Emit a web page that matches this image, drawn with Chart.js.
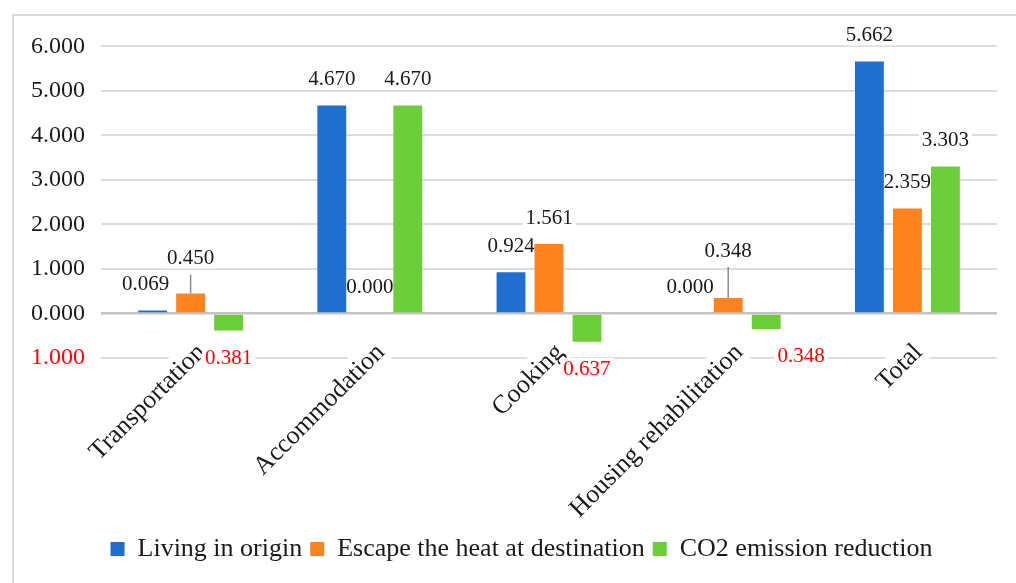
<!DOCTYPE html>
<html>
<head>
<meta charset="utf-8">
<script src="https://cdn.jsdelivr.net/npm/chart.js@4.4.0/dist/chart.umd.min.js"></script>
<style>
  html, body { margin: 0; padding: 0; background: #fff; overflow: hidden; width: 1016px; height: 583px; }
  #frame { position: absolute; left: 12px; top: 14px; border-left: 2px solid #d9d9d9; border-top: 2px solid #d9d9d9; width: 1020px; height: 600px; }
</style>
</head>
<body>
<div id="frame">
  <canvas id="chart" width="1014" height="556"></canvas>
</div>
<script>
// categories and series
const categories = ['Transportation', 'Accommodation', 'Cooking', 'Housing rehabilitation', 'Total'];
const livingInOrigin = [0.069, 4.670, 0.924, 0.000, 5.662];
const escapeHeat = [0.450, 0.000, 1.561, 0.348, 2.359];
const co2Reduction = [-0.381, 4.670, -0.637, -0.348, 3.303];
const seriesNames = ['Living in origin', 'Escape the heat at destination', 'CO2 emission reduction'];
const yTicks = [-1, 0, 1, 2, 3, 4, 5, 6];

// hand placed label tweaks, like excel when you drag a label: [dx, dy, leaderLine]
const labelNudge = {
    '0-0': [-7, 0, false],
    '1-0': [0, -9, true],
    '1-3': [0, -21, true],
    '2-3': [35, 0, false]
};

const FONT = '"Liberation Serif", "Times New Roman", serif';
const textColor = '#1a1a1a';
const negColor = '#ff0000';
Chart.defaults.font.family = FONT;

function labelSpots(chart, cb) {
    chart.data.datasets.forEach((ds, i) => {
        chart.getDatasetMeta(i).data.forEach((bar, j) => {
            const v = ds.data[j];
            const nudge = labelNudge[i + '-' + j] || [0, 0, false];
            const x = bar.x + nudge[0];
            const y = (v < 0 ? bar.y + 27 : bar.y - 27) + nudge[1];
            cb(bar, v, x, y, nudge[2]);
        });
    });
}

// value labels: white box goes under the bars (hides gridlines), text on top
const valueLabels = {
    id: 'valueLabels',
    afterLayout(chart) {
        // legend in the original is centred on the whole frame, not the canvas minus padding
        chart.legend.left += 16;
        chart.legend.right += 16;
    },
    beforeDatasetsDraw(chart) {
        const ctx = chart.ctx;
        ctx.save();
        ctx.font = '21px ' + FONT;
        ctx.fillStyle = '#fff';
        labelSpots(chart, (bar, v, x, y) => {
            const w = ctx.measureText(Math.abs(v).toFixed(3)).width;
            ctx.fillRect(x - w / 2 - 3, y - 11, w + 6, 22);
        });
        ctx.restore();
    },
    afterDatasetsDraw(chart) {
        const ctx = chart.ctx;
        ctx.save();
        ctx.font = '21px ' + FONT;
        ctx.textAlign = 'center';
        ctx.textBaseline = 'middle';
        labelSpots(chart, (bar, v, x, y, lead) => {
            if (lead) {
                ctx.strokeStyle = '#8c8c8c';
                ctx.lineWidth = 1.5;
                ctx.beginPath();
                ctx.moveTo(bar.x, y + 17);
                ctx.lineTo(bar.x, bar.y);
                ctx.stroke();
            }
            ctx.fillStyle = v < 0 ? negColor : textColor;
            ctx.fillText(Math.abs(v).toFixed(3), x, y + 1);
        });
        ctx.restore();
    }
};

const ctx = document.getElementById('chart').getContext('2d');
new Chart(ctx, {
    type: 'bar',
    data: {
        labels: categories,
        datasets: [
            { label: seriesNames[0], data: livingInOrigin, backgroundColor: '#1f70ce' },
            { label: seriesNames[1], data: escapeHeat, backgroundColor: '#ff841f' },
            { label: seriesNames[2], data: co2Reduction, backgroundColor: '#6cce3b' }
        ]
    },
    options: {
        responsive: false,
        animation: false,
        categoryPercentage: 0.636,
        barPercentage: 0.76,
        layout: { padding: { top: 27, right: 31, left: 0, bottom: 0 } },
        scales: {
            x: {
                position: { y: 0 },
                grid: { display: false },
                border: { display: false },
                ticks: {
                    autoSkip: false,
                    minRotation: 45,
                    maxRotation: 45,
                    padding: 16,
                    color: textColor,
                    font: { family: FONT, size: 26 },
                    showLabelBackdrop: true,
                    backdropColor: '#ffffff',
                    backdropPadding: 1
                }
            },
            y: {
                min: -1,
                max: 6,
                afterFit(scale) { scale.width = 87; },
                afterBuildTicks(scale) { scale.ticks = yTicks.map(v => ({ value: v })); },
                grid: {
                    drawTicks: false,
                    color: c => c.tick && c.tick.value === 0 ? '#c4c4c4' : '#dcdcdc',
                    lineWidth: c => c.tick && c.tick.value === 0 ? 2.5 : 2
                },
                border: { display: false },
                ticks: {
                    padding: 16,
                    font: { family: FONT, size: 24 },
                    color: c => c.tick.value < 0 ? negColor : textColor,
                    callback: v => Math.abs(v).toFixed(3)
                }
            }
        },
        plugins: {
            tooltip: { enabled: false },
            legend: {
                position: 'bottom',
                title: { display: true, text: '', padding: { top: 160, bottom: 0 }, font: { size: 10, lineHeight: 1 } },
                labels: {
                    boxWidth: 14,
                    boxHeight: 14,
                    padding: 8,
                    color: textColor,
                    font: { family: FONT, size: 26 }
                }
            }
        }
    },
    plugins: [valueLabels]
});
</script>
</body>
</html>
